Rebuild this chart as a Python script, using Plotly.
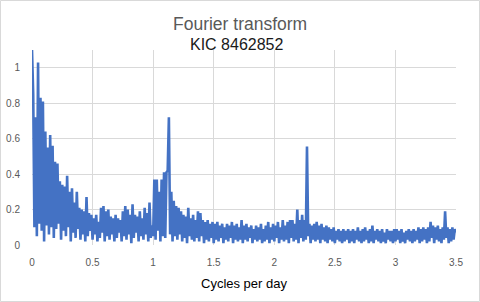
import numpy as np
import plotly.graph_objects as go

# Frequencies (cycles per day): peak samples at 0.01, 0.03, ... 3.49 ; trough samples at 0.00, 0.02, ... 3.50
peak_start, trough_start, step = 0.01, 0.00, 0.02

peak_amp = [
    0.85, 0.72, 1.03, 0.83, 0.81, 0.64, 0.55, 0.62, 0.56, 0.47,   # 0.01-0.19
    0.46, 0.36, 0.34, 0.33, 0.39, 0.30, 0.32, 0.24, 0.30, 0.21,   # 0.21-0.39
    0.20, 0.19, 0.27, 0.18, 0.17, 0.15, 0.17, 0.13, 0.21, 0.22,   # 0.41-0.59
    0.19, 0.20, 0.16, 0.15, 0.17, 0.15, 0.14, 0.19, 0.22, 0.20,   # 0.61-0.79
    0.17, 0.23, 0.17, 0.16, 0.19, 0.15, 0.21, 0.18, 0.24, 0.11,   # 0.81-0.99
    0.37, 0.37, 0.30, 0.37, 0.41, 0.41, 0.72, 0.30, 0.25, 0.22,   # 1.01-1.19
    0.21, 0.19, 0.17, 0.16, 0.21, 0.15, 0.17, 0.14, 0.19, 0.18,   # 1.21-1.39
    0.14, 0.13, 0.14, 0.12, 0.13, 0.12, 0.13, 0.11, 0.12, 0.10,   # 1.41-1.59
    0.12, 0.11, 0.13, 0.11, 0.12, 0.10, 0.14, 0.11, 0.12, 0.10,   # 1.61-1.79
    0.11, 0.09, 0.11, 0.10, 0.12, 0.09, 0.11, 0.13, 0.10, 0.12,   # 1.81-1.99
    0.11, 0.13, 0.10, 0.14, 0.11, 0.13, 0.14, 0.14, 0.12, 0.20,   # 2.01-2.19
    0.14, 0.17, 0.14, 0.556, 0.12, 0.11, 0.12, 0.13, 0.11, 0.12,  # 2.21-2.39
    0.10, 0.11, 0.10, 0.09, 0.10, 0.08, 0.09, 0.08, 0.09, 0.08,   # 2.41-2.59
    0.09, 0.08, 0.09, 0.08, 0.10, 0.08, 0.09, 0.10, 0.08, 0.09,   # 2.61-2.79
    0.11, 0.08, 0.09, 0.08, 0.09, 0.07, 0.09, 0.08, 0.08, 0.09,   # 2.81-2.99
    0.09, 0.08, 0.09, 0.07, 0.08, 0.09, 0.08, 0.09, 0.08, 0.10,   # 3.01-3.19
    0.09, 0.10, 0.09, 0.10, 0.13, 0.11, 0.10, 0.11, 0.09, 0.10,   # 3.21-3.39
    0.19, 0.10, 0.09, 0.10, 0.09,                                 # 3.41-3.49
]

trough_amp = [
    1.10, 0.10, 0.05, 0.12, 0.08, 0.02, 0.11, 0.06, 0.10, 0.04,   # 0.00-0.18
    0.09, 0.12, 0.03, 0.08, 0.05, 0.10, 0.02, 0.07, 0.04, 0.09,   # 0.20-0.38
    0.03, 0.06, 0.02, 0.05, 0.08, 0.03, 0.06, 0.02, 0.04, 0.07,   # 0.40-0.58
    0.02, 0.05, 0.03, 0.06, 0.02, 0.04, 0.07, 0.02, 0.05, 0.03,   # 0.60-0.78
    0.06, 0.01, 0.04, 0.07, 0.02, 0.05, 0.03, 0.06, 0.02, 0.04,   # 0.80-0.98
    0.05, 0.03, 0.08, 0.02, 0.05, 0.04, 0.42, 0.06, 0.02, 0.05,   # 1.00-1.18
    0.03, 0.06, 0.02, 0.04, 0.01, 0.05, 0.03, 0.02, 0.04, 0.02,   # 1.20-1.38
    0.05, 0.01, 0.03, 0.02, 0.04, 0.01, 0.03, 0.02, 0.04, 0.01,   # 1.40-1.58
    0.03, 0.02, 0.04, 0.01, 0.03, 0.02, 0.03, 0.01, 0.03, 0.02,   # 1.60-1.78
    0.04, 0.01, 0.03, 0.02, 0.03, 0.01, 0.02, 0.03, 0.01, 0.03,   # 1.80-1.98
    0.02, 0.04, 0.01, 0.03, 0.02, 0.03, 0.01, 0.04, 0.02, 0.03,   # 2.00-2.18
    0.01, 0.04, 0.02, 0.03, 0.05, 0.01, 0.03, 0.02, 0.03, 0.01,   # 2.20-2.38
    0.03, 0.02, 0.01, 0.03, 0.02, 0.01, 0.03, 0.02, 0.01, 0.02,   # 2.40-2.58
    0.03, 0.01, 0.02, 0.01, 0.03, 0.02, 0.01, 0.02, 0.03, 0.01,   # 2.60-2.78
    0.02, 0.01, 0.03, 0.02, 0.01, 0.02, 0.01, 0.03, 0.02, 0.01,   # 2.80-2.98
    0.02, 0.03, 0.01, 0.02, 0.01, 0.03, 0.02, 0.01, 0.02, 0.03,   # 3.00-3.18
    0.01, 0.02, 0.03, 0.01, 0.02, 0.04, 0.01, 0.03, 0.02, 0.01,   # 3.20-3.38
    0.03, 0.04, 0.01, 0.02, 0.03, 0.07,                           # 3.40-3.50
]

x_ticks = [0, 0.5, 1, 1.5, 2, 2.5, 3, 3.5]
x_labels = ["0", "0.5", "1", "1.5", "2", "2.5", "3", "3.5"]
y_ticks = [0, 0.2, 0.4, 0.6, 0.8, 1.0]
y_labels = ["0", "0.2", "0.4", "0.6", "0.8", "1"]

# interleave troughs and peaks in frequency order
xs, ys = [], []
for i, t in enumerate(trough_amp):
    xs.append(round(trough_start + i * step, 4)); ys.append(t)
    if i < len(peak_amp):
        xs.append(round(peak_start + i * step, 4)); ys.append(peak_amp[i])

fig = go.Figure()
fig.add_trace(go.Scatter(x=xs, y=ys, mode="lines",
                         line=dict(color="#4472C4", width=2.6), hoverinfo="skip"))

W, H = 480, 302
L, R, T, B = 32, 24, 50, 57
pw, ph = W - L - R, H - T - B

fig.update_layout(
    width=W, height=H,
    margin=dict(l=L, r=R, t=T, b=B, autoexpand=False),
    paper_bgcolor="white", plot_bgcolor="white",
    showlegend=False,
    font=dict(family="Liberation Sans, Arial, sans-serif", color="#595959", size=10),
    xaxis=dict(range=[0, 3.5], tickvals=x_ticks, ticktext=x_labels, automargin=False,
               showgrid=True, gridcolor="#d9d9d9", gridwidth=1,
               zeroline=False, showline=False, ticks="", ticklabelstandoff=10,
               tickfont=dict(size=10, color="#595959"),
               title=dict(text="Cycles per day", font=dict(size=13, color="#000000"), standoff=11)),
    yaxis=dict(range=[0, 1.1], tickvals=y_ticks, ticktext=y_labels, automargin=False,
               showgrid=True, gridcolor="#d9d9d9", gridwidth=1,
               zeroline=False, showline=False, ticks="", ticklabelstandoff=11,
               tickfont=dict(size=10, color="#595959")),
    annotations=[
        dict(text="Fourier transform", xref="paper", yref="paper",
             x=(239.5 - L) / pw, y=(T + ph - 24) / ph, xanchor="center", yanchor="middle",
             showarrow=False, font=dict(size=17.5, color="#595959")),
        dict(text="KIC 8462852", xref="paper", yref="paper",
             x=(236.5 - L) / pw, y=(T + ph - 44) / ph, xanchor="center", yanchor="middle",
             showarrow=False, font=dict(size=16, color="#1a1a1a")),
    ],
    shapes=[
        dict(type="rect", xref="paper", yref="paper",
             x0=(0.5 - L) / pw, x1=(W - 0.5 - L) / pw,
             y0=(T + ph - (H - 0.5)) / ph, y1=(T + ph - 0.5) / ph,
             line=dict(color="#d9d9d9", width=1), fillcolor="rgba(0,0,0,0)", layer="below"),
    ],
)

fig.write_html("out.html")
